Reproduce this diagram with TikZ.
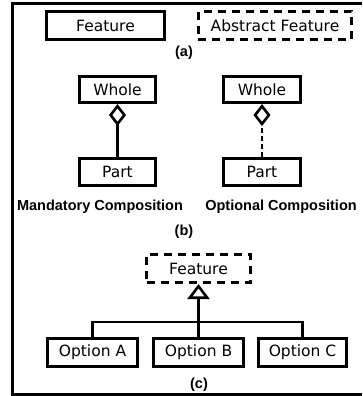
\documentclass[tikz,border=0pt]{standalone}
\usepackage{fontspec}
\setmainfont{DejaVu Sans}
\newfontfamily\labfont{Liberation Sans}
\usetikzlibrary{arrows.meta}
\begin{document}
\begin{tikzpicture}[x=1pt,y=-1pt,
  box/.style={draw, line width=2.6pt, minimum height=28.5pt, inner sep=0pt, font=\fontsize{15.5}{18}\selectfont},
  absbox/.style={box, dash pattern=on 8pt off 6pt},
  lab/.style={font=\labfont\bfseries\fontsize{14.5}{17}\selectfont, inner sep=0pt},
  conn/.style={line width=2.4pt},
  comp/.style={conn, -{Diamond[open, length=22pt, width=17pt, line width=2.6pt]}},
  gen/.style={conn, -{Triangle[open, length=15pt, width=22pt, line width=2.6pt]}}]
\useasboundingbox (0,0) rectangle (362,396);
\draw[line width=3pt] (362,4) -- (12,4) -- (12,394) -- (362,394);
% (a)
\node[box, minimum width=118.5pt] (feat) at (105.5,25.5) {Feature};
\node[absbox, minimum width=153.5pt] (abs) at (275,25.5) {Abstract Feature};
\node[lab] (la) at (184,53) {(a)};
% (b)
\node[box, minimum width=76.5pt, minimum height=26.5pt] (w1) at (117.5,89.5) {Whole};
\node[box, minimum width=76.5pt, minimum height=27.5pt] (p1) at (117.5,172) {Part};
\node[box, minimum width=77.5pt, minimum height=26.5pt] (w2) at (262,89.5) {Whole};
\node[box, minimum width=77.5pt, minimum height=27.5pt] (p2) at (262,172) {Part};
\node[lab] (lm) at (100,207) {Mandatory Composition};
\node[lab] (lo) at (281,207) {Optional Composition};
\node[lab] (lb) at (184,232) {(b)};
\draw[comp] (p1) -- (w1);
\draw[comp, dash pattern=on 5pt off 3pt] (p2) -- (w2);
% (c)
\node[absbox, minimum width=103.5pt] (fc) at (198.5,268.5) {Feature};
\node[box, minimum width=90.5pt] (oa) at (92.5,352.5) {Option A};
\node[box, minimum width=89.5pt] (ob) at (198.5,352.5) {Option B};
\node[box, minimum width=88.5pt] (oc) at (302.5,352.5) {Option C};
\node[lab] (lc) at (199,385) {(c)};
\coordinate (bus) at (198.5,322);
\draw[gen] (ob) -- (fc);
\draw[conn] (oa.north) |- (bus) -| (oc.north);
\end{tikzpicture}
\end{document}
